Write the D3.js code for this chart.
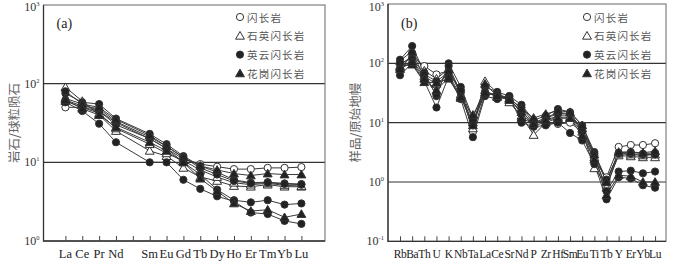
<!DOCTYPE html>
<html>
<head>
<meta charset="utf-8">
<script src="https://cdn.jsdelivr.net/npm/d3@7"></script>
<style>
  body { margin: 0; background: #fff; }
  svg { display: block; }
</style>
</head>
<body>
<div id="chart"></div>
<script>
// ---------------------------//
//            DATA            //
// ---------------------------//

// REE categories (Pm has no data, only a tick)
const reeNames = ["La", "Ce", "Pr", "Nd", "Pm", "Sm", "Eu", "Gd", "Tb", "Dy", "Ho", "Er", "Tm", "Yb", "Lu"];
// spider diagram categories
const spiderNames = ["Rb", "Ba", "Th", "U", "K", "Nb", "Ta", "La", "Ce", "Sr", "Nd", "P", "Zr", "Hf", "Sm", "Eu", "Ti", "Tb", "Y", "Er", "Yb", "Lu"];

// rock type of each sample
const sampleTypes = ["闪长岩", "石英闪长岩", "石英闪长岩", "英云闪长岩", "英云闪长岩", "英云闪长岩", "英云闪长岩", "花岗闪长岩", "花岗闪长岩"];

// chondrite normalised REE (null = Pm)
const reeValues = [
  [50, 50, 45, 32, null, 20, 15, 11, 9.5, 8.8, 8.2, 8.2, 8.5, 8.5, 8.7],
  [90, 60, 40, 25, null, 14, 12, 8.5, 6.5, 5.8, 5.0, 4.9, 5.2, 4.9, 4.9],
  [60, 50, 42, 27, null, 17, 13, 10.5, 8, 6.5, 5.5, 5.2, 5.4, 5.1, 5.0],
  [75, 58, 55, 36, null, 23, 17, 12, 9, 7.5, 6, 5.5, 5.6, 5.4, 5.3],
  [80, 55, 45, 30, null, 20, 15, 10, 7, 4.5, 3.3, 3.1, 3.3, 2.9, 3.0],
  [58, 45, 31, 18, null, 10, 10, 6, 4.6, 3.7, 3.2, 2.3, 2.2, 1.8, 1.65],
  [62, 52, 48, 33, null, 21, 16, 11.5, 8.5, 7, 5.8, 5.4, 5.5, 5.3, 5.2],
  [65, 55, 50, 35, null, 22, 16, 11.5, 9, 8, 7.2, 6.8, 7.2, 7.0, 7.0],
  [62, 48, 40, 28, null, 18, 14, 10, 6.2, 4.3, 3.0, 2.4, 2.5, 2.0, 2.2]
];

// primitive mantle normalised trace elements
const spiderValues = [
  [95, 130, 90, 65, 75, 35, 7, 30, 30, 24, 16, 9, 10, 9.5, 10, 7, 2.3, 1.2, 3.9, 4.2, 4.2, 4.5],
  [110, 160, 75, 55, 80, 30, 8, 50, 32, 22, 13, 6.2, 10, 12, 12, 7, 1.7, 0.9, 2.8, 2.7, 2.6, 2.6],
  [85, 110, 60, 45, 65, 28, 10, 35, 27, 25, 15, 10, 11, 13, 13, 8, 2.6, 0.8, 3.0, 2.9, 2.8, 2.9],
  [115, 196, 70, 28, 100, 40, 12, 40, 33, 28, 20, 11, 13, 17, 15, 9, 3.2, 1.0, 3.1, 3.2, 3.0, 3.1],
  [75, 150, 60, 30, 90, 32, 9, 33, 28, 26, 14, 9, 12, 15, 14, 7, 2.8, 0.7, 1.5, 1.55, 1.4, 1.5],
  [63, 100, 50, 18, 60, 25, 5.7, 28, 25, 28, 10, 8.5, 9, 10, 6.7, 5, 2.0, 0.51, 1.2, 1.15, 0.88, 0.8],
  [100, 120, 65, 50, 70, 35, 11, 30, 30, 25, 18, 10, 12, 14, 14, 8, 3.0, 1.1, 3.0, 3.0, 2.9, 2.9],
  [90, 95, 48, 47, 55, 26, 13.5, 32, 30, 26, 17, 12, 14, 16, 15, 9, 2.9, 1.0, 3.2, 3.2, 3.1, 3.3],
  [80, 105, 55, 35, 58, 27, 9, 45, 28, 24, 12, 9.5, 11, 12, 12, 6, 2.4, 0.6, 1.3, 1.25, 1.0, 1.0]
];

// legend entries
const legendNames = ["闪长岩", "石英闪长岩", "英云闪长岩", "花岗闪长岩"];
const legendShapes = ["openCircle", "openTriangle", "circle", "triangle"];

const reeTicks = [0, 1, 2, 3];        // exponents on the left panel
const spiderTicks = [-1, 0, 1, 2, 3]; // exponents on the right panel

const SERIF = "'Liberation Serif', 'DejaVu Serif', 'Times New Roman', serif";
const CJK = "'Noto Sans CJK SC', sans-serif";

// ---------------------------//
//       SET  CANVAS          //
// ---------------------------//

const svg = d3.select("#chart")
  .append("svg")
  .attr("width", 680)
  .attr("height", 266);

svg.append("rect").attr("width", 680).attr("height", 266).attr("fill", "#fff");

const shapeOf = {};
legendNames.forEach((n, i) => shapeOf[n] = legendShapes[i]);

function drawMarker(g, shape, x, y) {
  if (shape === "openCircle" || shape === "circle") {
    g.append("circle")
      .attr("cx", x).attr("cy", y).attr("r", 3.6)
      .attr("fill", shape === "circle" ? "#222" : "#fff")
      .attr("stroke", "#333").attr("stroke-width", 1);
  } else {
    g.append("path")
      .attr("d", d3.symbol(d3.symbolTriangle, 34)())
      .attr("transform", `translate(${x},${y + 0.8})`)
      .attr("fill", shape === "triangle" ? "#222" : "#fff")
      .attr("stroke", "#333").attr("stroke-width", 1);
  }
}

function panel(opt) {
  const g = svg.append("g");
  const x = d3.scaleLinear().domain(opt.xDomain).range([opt.left, opt.right]);
  const y = d3.scaleLog().domain([Math.pow(10, opt.exps[0]), Math.pow(10, opt.exps[opt.exps.length - 1])])
    .range([opt.bottom, opt.top]);

  // grid lines at inner decades
  g.selectAll(".grid")
    .data(opt.exps.slice(1, -1))
    .enter().append("line")
    .attr("x1", opt.left).attr("x2", opt.right)
    .attr("y1", d => y(Math.pow(10, d))).attr("y2", d => y(Math.pow(10, d)))
    .attr("stroke", "#333").attr("stroke-width", 1.1);

  // frame
  g.append("rect")
    .attr("x", opt.left).attr("y", opt.top)
    .attr("width", opt.right - opt.left).attr("height", opt.bottom - opt.top)
    .attr("fill", "none").attr("stroke", "#666").attr("stroke-width", 1);
  g.append("path")
    .attr("d", `M${opt.left},${opt.top}V${opt.bottom}H${opt.right}`)
    .attr("fill", "none").attr("stroke", "#333").attr("stroke-width", 1.3);

  // bottom ticks (pointing inward) + labels
  const xAxis = g.append("g")
    .attr("transform", `translate(0,${opt.bottom})`)
    .call(d3.axisBottom(x).tickValues(d3.range(opt.names.length)).tickSize(-5).tickFormat(""));
  xAxis.select(".domain").remove();
  xAxis.selectAll(".tick line").attr("stroke", "#444");

  g.selectAll(".xlab")
    .data(opt.names)
    .enter().append("text")
    .attr("font-family", SERIF)
    .attr("fill", "#222")
    .attr("x", (d, i) => x(i))
    .attr("y", 258)
    .attr("text-anchor", "middle")
    .attr("letter-spacing", opt.xSpacing)
    .style("font-size", opt.xFont + "px")
    .text(d => d === "Pm" ? "" : d);

  // y labels 10^n
  const yl = g.selectAll(".ylab")
    .data(opt.exps)
    .enter().append("text")
    .attr("font-family", SERIF)
    .attr("fill", "#333")
    .attr("x", opt.left - 4)
    .attr("y", d => Math.max(y(Math.pow(10, d)) + 4, 11))
    .attr("text-anchor", "end")
    .style("font-size", "12px");
  yl.append("tspan").text("10");
  yl.append("tspan").attr("dy", -5).style("font-size", "6.5px").text(d => d);

  // y title
  svg.append("text")
    .attr("font-family", CJK)
    .attr("fill", "#666")
    .attr("transform", `translate(${opt.titleX},${(opt.top + opt.bottom) / 2}) rotate(-90)`)
    .attr("text-anchor", "middle")
    .attr("dominant-baseline", "central")
    .style("font-size", "12.5px")
    .text(opt.title);

  // panel letter
  g.append("text")
    .attr("font-family", SERIF)
    .attr("fill", "#222")
    .attr("x", opt.left + 13).attr("y", 28)
    .style("font-size", "14px")
    .text(opt.letter);

  // series
  const line = d3.line().x(d => x(d[0])).y(d => y(d[1]));
  opt.values.forEach(vals => {
    const pts = vals.map((v, i) => [i, v]).filter(p => p[1] != null);
    g.append("path")
      .attr("d", line(pts))
      .attr("fill", "none")
      .attr("stroke", "#3a3a3a")
      .attr("stroke-width", 1);
  });
  opt.values.forEach((vals, s) => {
    const shape = shapeOf[sampleTypes[s]];
    vals.forEach((v, i) => {
      if (v != null) drawMarker(g, shape, x(i), y(v));
    });
  });

  // legend
  legendNames.forEach((n, i) => {
    const ly = 17 + i * 18.8;
    drawMarker(g, legendShapes[i], opt.legendX, ly);
    g.append("text")
      .attr("font-family", CJK)
      .attr("fill", "#555")
      .attr("x", opt.legendX + 7)
      .attr("y", ly)
      .attr("dominant-baseline", "central")
      .attr("letter-spacing", 1.2)
      .style("font-size", "10.5px")
      .text(n);
  });
}

panel({
  left: 43.5, right: 325, top: 5, bottom: 241,
  xDomain: [-1.3, 15.4], exps: reeTicks,
  names: reeNames, values: reeValues, xFont: 12.5, xSpacing: 0,
  title: "岩石/球粒陨石", titleX: 13, letter: "(a)", legendX: 240
});

panel({
  left: 388, right: 666, top: 4, bottom: 241.3,
  xDomain: [-0.99, 21.9], exps: spiderTicks,
  names: spiderNames, values: spiderValues, xFont: 11.5, xSpacing: -0.4,
  title: "样品/原始地幔", titleX: 354, letter: "(b)", legendX: 587
});
</script>
</body>
</html>
